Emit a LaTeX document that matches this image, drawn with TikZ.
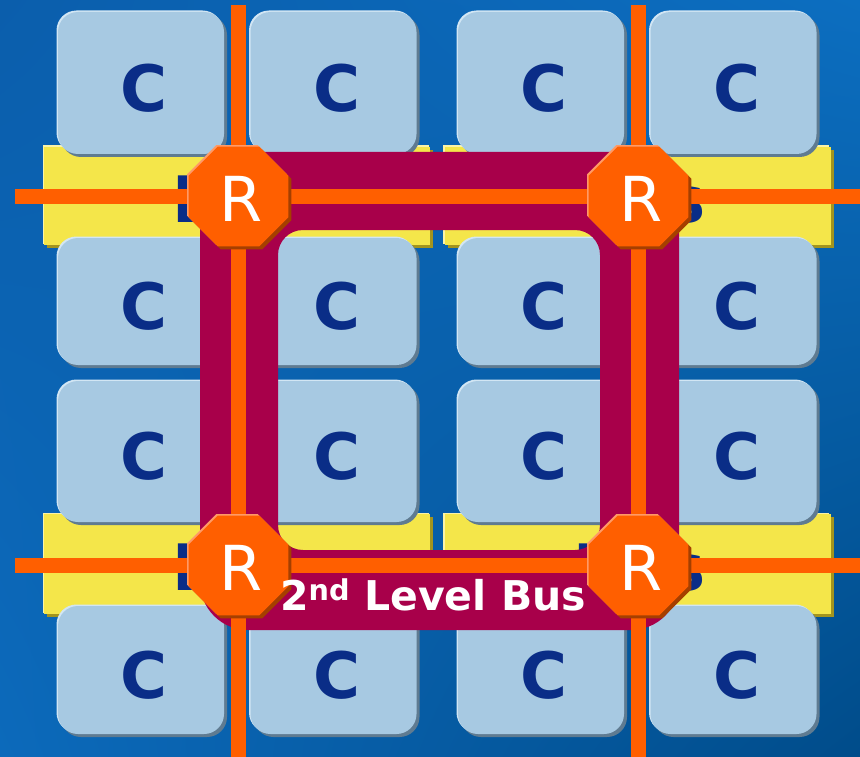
\documentclass[tikz,border=0pt]{standalone}
\usepackage{fontspec}
\setmainfont{DejaVu Sans}
\usetikzlibrary{shapes.geometric,shadows,shadings}
\definecolor{bgTL}{HTML}{0B5EAC}
\definecolor{bgTR}{HTML}{0C6EC0}
\definecolor{bgBL}{HTML}{0C6ABB}
\definecolor{bgBR}{HTML}{004C8A}
\definecolor{cardfill}{HTML}{A7C9E2}
\definecolor{cardlight}{HTML}{D2E6F4}
\definecolor{cardshade}{HTML}{5F7B91}
\definecolor{navy}{HTML}{0A2D87}
\definecolor{busyellow}{HTML}{F4E64A}
\definecolor{buslight}{HTML}{FBF3A8}
\definecolor{busshade}{HTML}{A3941E}
\definecolor{ringred}{HTML}{A8004A}
\definecolor{rorange}{HTML}{FF5F00}
\definecolor{rlight}{HTML}{FF9A66}
\definecolor{rshade}{HTML}{A53F00}
\begin{document}
\begin{tikzpicture}[x=1pt,y=-1pt,
  cardbox/.style={rectangle, rounded corners=20pt, fill=cardfill, inner sep=0pt,
    minimum width=166pt,
    general shadow={fill=cardshade, shadow xshift=3pt, shadow yshift=-3pt},
    general shadow={fill=cardlight, shadow xshift=-1.5pt, shadow yshift=1.5pt}},
  ctext/.style={text=navy, font=\bfseries\fontsize{64}{64}\selectfont, inner sep=0pt},
  busbar/.style={rectangle, fill=busyellow, inner sep=0pt,
    general shadow={fill=busshade, shadow xshift=3pt, shadow yshift=-3pt},
    general shadow={fill=buslight, shadow xshift=-1.5pt, shadow yshift=1.5pt}},
  router/.style={regular polygon, regular polygon sides=8, minimum size=108pt,
    inner sep=0pt, fill=rorange,
    general shadow={fill=rshade, shadow xshift=3pt, shadow yshift=-3pt},
    general shadow={fill=rlight, shadow xshift=-1.5pt, shadow yshift=1.5pt}},
  rtext/.style={text=white, font=\fontsize{62}{62}\selectfont, inner sep=0pt},
  orangeline/.style={draw=rorange, line width=15.5pt},
]
\useasboundingbox (0,0) rectangle (860,757);
% background
\shade[upper left=bgTL, upper right=bgTR, lower left=bgBL, lower right=bgBR]
  (0,0) rectangle (860,757);

% yellow bus bars
\node[busbar, minimum width=386pt, minimum height=98pt] (bA) at (237,196) {};
\node[busbar, minimum width=386pt, minimum height=98pt] (bB) at (637.5,196) {};
\node[busbar, minimum width=386pt, minimum height=100pt] (bC) at (237,564) {};
\node[busbar, minimum width=386pt, minimum height=100pt] (bD) at (637.5,564) {};
\node[ctext] (bAt) at ([xshift=2pt,yshift=-4pt]bA.center) {Bus};
\node[ctext] (bBt) at ([xshift=2pt,yshift=-4pt]bB.center) {Bus};
\node[ctext] (bCt) at ([xshift=2pt,yshift=-4pt]bC.center) {Bus};
\node[ctext] (bDt) at ([xshift=2pt,yshift=-4pt]bD.center) {Bus};

% cards
\foreach \cx [count=\i] in {141,333.5,541,733.5}{
  \foreach \cy/\ch [count=\j] in {83/142,301.5/127,451.5/141,670/128}{
    \node[cardbox, minimum height=\ch pt] (c\j\i) at (\cx,\cy) {};
    \node[ctext] (c\j\i t) at ([xshift=3pt,yshift=-5pt]c\j\i.center) {C};
  }
}

% second level bus ring
\fill[ringred, even odd rule]
  [rounded corners=48pt] (200,152) rectangle (679,630)
  [rounded corners=25pt] (278,230) rectangle (600,550);

% orange lines
\coordinate (x11) at (238.5,196.5);
\coordinate (x12) at (638.5,196.5);
\coordinate (x21) at (238.5,565.5);
\coordinate (x22) at (638.5,565.5);
\coordinate (v1t) at (238.5,5);
\coordinate (v1b) at (238.5,757);
\coordinate (v2t) at (638.5,5);
\coordinate (v2b) at (638.5,757);
\coordinate (h1l) at (15,196.5);
\coordinate (h1r) at (860,196.5);
\coordinate (h2l) at (15,565.5);
\coordinate (h2r) at (860,565.5);
\draw[orangeline] (v1t) -- (x11) -- (x21) -- (v1b);
\draw[orangeline] (v2t) -- (x12) -- (x22) -- (v2b);
\draw[orangeline] (h1l) -- (x11) -- (x12) -- (h1r);
\draw[orangeline] (h2l) -- (x21) -- (x22) -- (h2r);

% routers
\node[router] (r11) at (x11) {};
\node[router] (r12) at (x12) {};
\node[router] (r21) at (x21) {};
\node[router] (r22) at (x22) {};
\foreach \r in {r11,r12,r21,r22}{
  \node[rtext] (\r t) at ([xshift=3pt,yshift=-2.5pt]\r.center) {R};
}

% label
\node[text=white, font=\bfseries\fontsize{41}{41}\selectfont, anchor=base, inner sep=0pt]
  (lbl) at (433,610) {2\textsuperscript{nd} Level Bus};
\end{tikzpicture}
\end{document}
